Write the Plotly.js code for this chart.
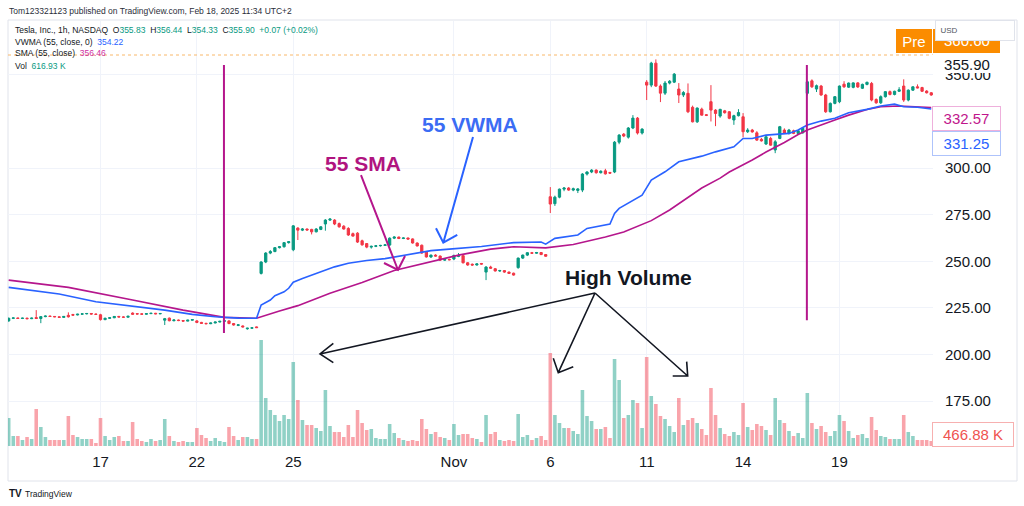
<!DOCTYPE html>
<html>
<head>
<meta charset="utf-8">
<script src="https://cdn.plot.ly/plotly-3.0.1.min.js"></script>
<style>
  html, body { margin: 0; padding: 0; background: #fff; }
  #chart { width: 1024px; height: 506px; }
</style>
</head>
<body>
<div id="chart"></div>
<script>
// TSLA 1h, regular hours, Oct 14 (10:30) .. Nov 21, one bar per hour
const opens = [
  218.0, 219.4, 219.6, 219.3, 219.5, 219.2,
  219.8, 219.3, 220.3, 220.6, 220.4, 220.2, 219.9,
  221.0, 221.4, 221.2, 221.6, 221.8, 222.0, 221.7,
  221.3, 218.7, 219.4, 219.7, 220.4, 220.1, 220.0,
  222.2, 221.9, 221.8, 221.6, 221.9, 222.1, 221.8,
  218.4, 219.5, 218.1, 218.5, 218.2, 217.9, 218.4,
  218.0, 217.2, 216.7, 216.5, 216.9, 217.4, 217.8,
  218.0, 216.6, 215.6, 215.3, 213.8, 214.1, 214.8,
  243.5, 249.6, 254.4, 255.2, 257.3, 257.8, 260.0,
  256.2, 267.8, 266.7, 267.3, 267.1, 265.8, 267.1,
  270.0, 272.1, 272.1, 270.2, 268.8, 267.6, 264.8,
  265.1, 261.0, 259.5, 257.6, 258.0, 258.3, 258.5,
  258.7, 262.4, 263.0, 262.2, 262.5, 262.0, 259.8,
  258.6, 254.9, 252.3, 253.3, 252.8, 250.6, 251.0,
  251.2, 252.6, 253.0, 249.2, 248.4, 248.0, 248.8,
  244.2, 246.9, 246.0, 244.8, 245.0, 244.2, 243.6,
  246.6, 251.7, 253.3, 254.6, 254.3, 254.7, 253.6,
  284.6, 280.9, 284.4, 288.7, 289.3, 288.2, 288.0,
  288.2, 296.8, 297.9, 298.9, 297.5, 298.5, 297.6,
  297.9, 313.9, 318.2, 316.6, 321.5, 326.8, 318.8,
  346.1, 344.5, 356.3, 344.0, 340.2, 345.6, 346.1,
  342.4, 339.2, 340.1, 332.6, 324.8, 331.6, 328.6,
  335.6, 331.1, 327.9, 330.7, 330.2, 325.8, 328.1,
  327.5, 319.5, 320.4, 318.9, 315.4, 312.9, 315.9,
  309.7, 315.9, 320.4, 318.6, 320.0, 318.6, 318.9,
  340.1, 346.8, 342.4, 344.0, 339.2, 330.2, 334.7,
  335.6, 345.0, 343.4, 343.3, 345.7, 342.8, 344.9,
  345.4, 336.8, 335.0, 338.3, 341.0, 339.5, 341.2,
  344.0, 336.5, 341.8, 343.6, 343.2, 341.3, 340.4
];
const highs = [
  219.8, 219.8, 219.8, 219.7, 219.7, 219.8,
  223.8, 220.6, 220.9, 220.8, 220.6, 220.4, 220.6,
  222.6, 221.8, 221.8, 222.0, 222.1, 222.2, 221.9,
  221.8, 219.8, 219.9, 220.6, 220.7, 220.4, 220.7,
  222.6, 222.2, 222.0, 222.0, 222.3, 222.3, 222.2,
  219.6, 219.8, 218.8, 218.7, 218.5, 218.6, 218.9,
  218.4, 217.5, 217.0, 217.0, 217.6, 218.0, 218.3,
  218.4, 216.9, 216.1, 215.6, 214.3, 214.5, 215.0,
  250.0, 254.9, 256.0, 257.6, 258.2, 260.3, 260.8,
  269.4, 268.3, 267.8, 267.6, 267.4, 267.8, 268.8,
  272.6, 273.2, 272.6, 270.8, 269.4, 268.3, 265.4,
  265.6, 261.6, 259.8, 258.4, 258.6, 258.8, 259.1,
  262.8, 263.4, 263.2, 262.8, 262.7, 262.3, 260.1,
  259.0, 255.4, 253.6, 253.8, 253.1, 251.4, 251.4,
  253.6, 254.4, 253.4, 249.6, 248.8, 248.9, 249.1,
  247.4, 247.6, 246.4, 245.4, 245.3, 244.5, 243.9,
  252.0, 253.6, 254.9, 255.0, 255.0, 254.9, 253.9,
  289.8, 285.2, 289.0, 289.8, 289.8, 289.5, 289.3,
  297.3, 298.3, 299.4, 299.3, 298.8, 299.6, 298.0,
  314.5, 318.2, 318.8, 322.0, 328.4, 327.4, 321.4,
  347.2, 357.0, 358.3, 344.9, 346.7, 347.2, 351.0,
  345.6, 341.3, 345.4, 333.5, 332.5, 332.4, 329.0,
  344.5, 331.6, 331.8, 331.2, 330.6, 328.6, 331.6,
  329.5, 321.4, 321.0, 319.8, 316.2, 317.0, 316.8,
  315.0, 322.6, 321.3, 321.0, 320.6, 320.4, 321.8,
  346.8, 347.6, 344.8, 344.6, 339.8, 335.2, 338.6,
  344.3, 346.6, 345.9, 346.0, 346.1, 345.3, 346.4,
  346.2, 337.4, 339.0, 341.3, 341.6, 341.5, 343.4,
  347.6, 342.2, 343.8, 344.9, 343.6, 341.8, 340.8
];
const lows = [
  217.6, 219.0, 219.1, 219.0, 218.9, 219.0,
  219.0, 216.8, 220.0, 220.1, 220.0, 219.7, 219.7,
  219.8, 221.0, 221.0, 221.3, 221.5, 221.4, 221.4,
  218.2, 218.4, 219.1, 219.5, 219.9, 219.8, 219.8,
  221.2, 221.5, 221.4, 221.4, 221.7, 221.6, 221.6,
  215.8, 217.8, 217.8, 217.9, 217.7, 217.8, 218.2,
  216.8, 216.4, 216.2, 216.3, 216.7, 217.2, 217.6,
  216.2, 215.5, 215.2, 214.5, 213.3, 213.7, 214.2,
  242.9, 249.0, 253.8, 254.9, 256.9, 257.3, 259.5,
  255.4, 261.4, 266.2, 266.5, 264.4, 265.5, 266.7,
  266.4, 271.6, 269.4, 268.0, 267.0, 263.6, 263.3,
  259.8, 258.4, 257.0, 256.8, 257.6, 257.9, 258.2,
  258.2, 261.9, 261.9, 261.9, 261.6, 259.5, 258.0,
  254.0, 252.0, 251.8, 252.5, 250.3, 250.2, 250.5,
  250.6, 252.2, 248.8, 247.6, 247.6, 247.7, 248.2,
  239.9, 246.0, 244.5, 244.3, 243.8, 243.2, 242.3,
  246.0, 251.2, 252.8, 254.0, 254.0, 253.3, 252.4,
  275.9, 279.7, 283.8, 287.6, 287.8, 287.6, 286.6,
  287.1, 296.0, 297.3, 297.0, 297.1, 296.5, 296.9,
  297.3, 312.8, 316.6, 315.8, 320.9, 318.0, 318.0,
  336.5, 343.4, 343.5, 335.4, 339.2, 344.9, 345.6,
  334.9, 338.1, 329.5, 324.5, 324.2, 328.2, 327.9,
  325.0, 322.5, 327.0, 329.2, 326.2, 323.2, 327.7,
  316.5, 318.8, 319.0, 314.6, 314.2, 312.4, 312.0,
  308.0, 315.5, 318.4, 318.0, 318.2, 318.2, 318.5,
  339.0, 343.0, 340.8, 338.8, 329.6, 329.8, 334.2,
  334.8, 343.0, 343.0, 342.8, 343.0, 342.4, 344.4,
  335.8, 334.5, 334.4, 337.8, 339.0, 339.0, 340.8,
  335.5, 335.8, 341.4, 342.8, 340.8, 340.0, 338.8
];
const closes = [
  219.4, 219.6, 219.3, 219.5, 219.2, 219.5,
  219.3, 220.3, 220.6, 220.4, 220.2, 219.9, 220.4,
  220.2, 221.1, 221.6, 221.8, 222.0, 221.7, 221.5,
  218.7, 219.4, 219.7, 220.4, 220.1, 220.0, 220.5,
  221.6, 221.7, 221.6, 221.9, 222.1, 221.8, 222.0,
  219.2, 218.1, 218.5, 218.2, 217.9, 218.4, 218.7,
  217.2, 216.7, 216.5, 216.9, 217.4, 217.8, 218.1,
  216.6, 215.8, 215.9, 214.8, 214.1, 214.3, 214.4,
  249.6, 254.4, 255.2, 257.3, 257.8, 260.0, 260.5,
  269.0, 266.7, 267.3, 266.8, 265.8, 267.3, 268.5,
  272.1, 272.6, 270.0, 268.5, 267.3, 264.1, 263.5,
  260.3, 258.8, 257.6, 258.0, 258.3, 258.5, 258.8,
  262.4, 263.0, 262.2, 262.5, 261.9, 259.8, 258.2,
  254.4, 252.3, 253.3, 252.8, 250.6, 251.0, 250.8,
  253.1, 253.0, 249.2, 248.0, 248.0, 248.6, 248.5,
  246.9, 246.3, 244.8, 245.0, 244.2, 243.5, 242.6,
  251.7, 253.3, 254.6, 254.3, 254.7, 253.6, 252.7,
  280.7, 284.4, 288.7, 289.3, 288.2, 288.9, 288.8,
  296.8, 297.9, 298.9, 297.5, 298.3, 296.9, 297.3,
  313.9, 317.7, 317.2, 321.5, 326.8, 318.8, 320.9,
  344.5, 356.3, 344.0, 340.2, 345.6, 346.6, 350.4,
  339.2, 340.5, 330.2, 324.8, 332.2, 328.4, 328.3,
  331.1, 329.3, 331.5, 329.7, 326.7, 328.1, 329.8,
  319.5, 320.4, 319.4, 315.0, 314.6, 316.8, 312.3,
  314.1, 322.2, 318.6, 320.4, 318.6, 320.0, 321.3,
  346.3, 343.6, 344.2, 339.2, 330.2, 334.7, 338.3,
  344.0, 343.6, 345.6, 345.7, 343.5, 344.9, 346.0,
  336.5, 335.0, 338.3, 341.0, 339.5, 341.2, 342.0,
  336.5, 341.8, 343.6, 343.0, 341.2, 340.4, 339.2
];
// volume, millions
const volumes = [
  2.8, 1.0, 1.0, 0.6, 0.9, 0.7,
  3.7, 1.9, 0.9, 0.6, 0.6, 0.6, 0.6,
  3.0, 1.1, 0.9, 0.7, 0.7, 0.7, 0.3,
  2.8, 1.0, 0.6, 0.9, 1.0, 0.5, 0.5,
  2.4, 0.7, 0.5, 0.4, 0.7, 0.5, 0.6,
  2.7, 1.0, 0.5, 0.4, 0.5, 0.4, 0.4,
  1.8, 1.1, 0.8, 0.5, 0.8, 0.5, 0.4,
  1.9, 1.0, 0.6, 0.9, 0.9, 0.7, 0.7,
  10.6, 4.8, 3.6, 3.1, 2.5, 3.1, 2.7,
  8.4, 4.6, 2.6, 2.1, 2.1, 1.8, 1.5,
  5.6, 2.0, 1.4, 1.4, 0.9, 2.1, 0.9,
  3.6, 2.3, 1.6, 1.7, 0.8, 0.7, 0.7,
  2.2, 1.3, 0.8, 0.6, 0.5, 0.6, 0.5,
  2.7, 1.7, 1.2, 1.4, 0.9, 0.8, 0.6,
  2.2, 1.1, 1.2, 1.2, 0.8, 0.7, 0.4,
  3.1, 1.2, 1.4, 0.6, 0.5, 0.6, 0.5,
  3.2, 0.9, 1.1, 0.6, 0.8, 1.0, 0.6,
  9.3, 3.1, 2.3, 1.8, 1.8, 1.5, 1.2,
  5.6, 3.0, 2.5, 1.7, 1.7, 1.9, 0.8,
  8.7, 6.6, 2.8, 3.1, 4.6, 4.3, 1.8,
  8.9, 5.0, 4.2, 3.0, 2.7, 2.0, 1.4,
  4.8, 2.1, 2.6, 2.8, 2.3, 1.7, 1.1,
  5.8, 3.1, 1.8, 1.2, 1.0, 1.4, 1.1,
  4.3, 1.9, 1.6, 2.2, 2.0, 1.6, 1.1,
  4.8, 2.6, 2.3, 1.5, 1.0, 1.3, 0.8,
  5.3, 2.3, 1.7, 2.0, 1.4, 1.0, 1.5,
  3.1, 2.5, 1.5, 0.8, 1.1, 1.2, 0.8,
  2.9, 1.6, 1.0, 0.9, 0.7, 0.7, 0.7,
  3.1, 1.4, 1.0, 0.6, 0.6, 0.6, 0.5
];

// 55 VWMA and 55 SMA, read at bar positions
const vwmaBars = [0,5,11,19,27,34,40,45,50,54,55,57,58,60,61,62,64,68,71,74,78,82,85,89,92,96,100,103,110,116,117,119,124,126,131,132,133,138,140,143,146,151,154,158,160,162,165,170,172,174,177,180,183,187,190,193,195,198,201];
const vwmaValues = [236.0,234.5,232.4,228.3,226.0,223.8,221.5,220.2,219.5,219.4,226.5,229.2,231.5,233.6,235.5,238.8,240.8,244.2,247.0,248.9,250.4,251.4,252.8,254.7,255.7,256.5,257.3,257.9,260.0,260.3,259.2,262.3,264.1,267.6,270.0,275.7,278.4,285.5,293.6,298.0,303.4,306.4,308.7,311.4,315.9,315.9,317.7,318.6,320.4,323.1,325.2,326.7,329.7,331.5,333.3,334.3,332.9,332.6,331.7];
const smaBars = [0,13,27,38,47,54,59,63,70,77,84,91,98,105,110,117,123,130,134,140,144,151,155,157,162,165,169,172,174,180,183,187,190,194,198,201];
const smaValues = [239.9,236.0,229.2,223.8,219.9,219.4,223.3,226.2,232.9,238.6,245.0,249.3,253.3,256.5,257.8,257.2,259.0,263.0,265.7,271.8,277.5,289.3,294.6,297.9,304.3,308.6,313.7,318.0,320.4,325.8,328.4,331.4,332.9,333.3,332.9,332.5];

const dayTickBars = [20, 41, 62, 97, 118, 139, 160, 181];
const dayTickLabels = ['17', '22', '25', 'Nov', '6', '11', '14', '19'];
// 325 and 375 sit under the price boxes, so only the visible ones are listed
const priceTicks = [175, 200, 225, 250, 275, 300, 350];

const UP = '#089981', DOWN = '#f23645';
const BLUE = '#2962ff', MAGENTA = '#b5168c';
const FONT = 'Liberation Sans, Arial, sans-serif';

const barIdx = opens.map((_, i) => i);
const volColors = opens.map((o, i) => closes[i] >= o ? 'rgba(8,153,129,0.45)' : 'rgba(242,54,69,0.45)');

// pixel -> paper helpers for the drawn notes
const L = 8, R = 933, T = 21, B = 446;
const px = x => (x - L) / (R - L);
const py = y => (B - y) / (B - T);
const path = pts => pts.map((p, k) => (k ? 'L' : 'M') + px(p[0]).toFixed(4) + ',' + py(p[1]).toFixed(4)).join(' ');

const traces = [
  {
    type: 'bar', x: barIdx, y: volumes, yaxis: 'y2',
    marker: { color: volColors, line: { width: 0 } }, hoverinfo: 'skip'
  },
  {
    type: 'candlestick', x: barIdx, open: opens, high: highs, low: lows, close: closes,
    whiskerwidth: 0,
    increasing: { line: { color: UP, width: 1 }, fillcolor: UP },
    decreasing: { line: { color: DOWN, width: 1 }, fillcolor: DOWN },
    hoverinfo: 'skip'
  },
  {
    type: 'scatter', mode: 'lines', x: smaBars, y: smaValues,
    line: { color: MAGENTA, width: 1.6 }, hoverinfo: 'skip'
  },
  {
    type: 'scatter', mode: 'lines', x: vwmaBars, y: vwmaValues,
    line: { color: BLUE, width: 1.6 }, hoverinfo: 'skip'
  }
];

function note(x, y, text, opt) {
  return Object.assign({
    xref: 'paper', yref: 'paper', x: px(x), y: py(y), text: text,
    showarrow: false, xanchor: 'left', yanchor: 'middle',
    font: { family: FONT, size: 8.5, color: '#131722' }
  }, opt || {});
}
function priceBox(x, y, w, h, text, color, border, bg) {
  return note(x, y, text, {
    xanchor: 'center', width: w, height: h, bgcolor: bg || '#ffffff',
    bordercolor: border || 'rgba(0,0,0,0)', borderwidth: border ? 1 : 0, borderpad: 0,
    font: { family: FONT, size: 15, color: color }
  });
}

const g = s => '<span style="color:' + UP + '">' + s + '</span>';
const annotations = [
  note(7, 11, 'Tom123321123 published on TradingView.com, Feb 18, 2025 11:34 UTC+2', { font: { family: FONT, size: 8.5, color: '#2a2e39' } }),
  note(13, 30.5, 'Tesla, Inc., 1h, NASDAQ&nbsp; O' + g('355.83') + '&nbsp; H' + g('356.44') + '&nbsp; L' + g('354.33') + '&nbsp; C' + g('355.90') + '&nbsp; ' + g('+0.07 (+0.02%)')),
  note(13, 42, 'VWMA (55, close, 0)&nbsp; <span style="color:' + BLUE + '">354.22</span>'),
  note(13, 53.5, 'SMA (55, close)&nbsp; <span style="color:#d0309f">356.46</span>'),
  note(13, 65.5, 'Vol&nbsp; ' + g('616.93 K')),

  note(470, 124.5, '<b>55 VWMA</b>', { xanchor: 'center', font: { family: FONT, size: 21, color: '#3b6cf4' } }),
  note(362.5, 163, '<b>55 SMA</b>', { xanchor: 'center', font: { family: FONT, size: 21, color: '#b0147f' } }),
  note(628, 277, '<b>High Volume</b>', { xanchor: 'center', font: { family: FONT, size: 21, color: '#131722' } }),

  priceBox(914, 41, 36, 24, 'Pre', '#ffffff', null, '#fb8c00'),
  note(966.5, 40.5, '360.60', { xanchor: 'center', font: { family: FONT, size: 15, color: '#ffffff' } }),
  priceBox(966.5, 64.5, 70, 18, '355.90', '#131722', null, '#ffffff'),
  priceBox(966.5, 118.5, 67, 23, '332.57', '#c0168c', '#eeb0dc'),
  priceBox(966.5, 143, 67, 23, '331.25', BLUE, '#aec3fb'),
  priceBox(973, 434.5, 80, 23, '466.88 K', '#ef5350', '#f7b0b0'),

  note(7, 493.5, '<b>TV</b>', { font: { family: FONT, size: 10, color: '#131722' } }),
  note(23, 493.5, 'TradingView', { font: { family: FONT, size: 8.5, color: '#131722' } }),

  // currency box sits over the pre-market price box
  note(935, 30.5, '&nbsp;&nbsp;USD', { xanchor: 'left', width: 78, height: 19, align: 'left', bgcolor: '#ffffff', bordercolor: '#e0e3eb', borderwidth: 1, borderpad: 0, font: { family: FONT, size: 8, color: '#50535e' } })
];

const shapes = [
  // chart frame
  { type: 'rect', xref: 'paper', yref: 'paper', x0: px(8), x1: px(1017), y0: py(481), y1: py(20), line: { color: '#e0e3eb', width: 1 }, layer: 'below' },
  // pre-market price box and line
  { type: 'rect', xref: 'paper', yref: 'paper', x0: px(933), x1: px(1000), y0: py(53), y1: py(29), fillcolor: '#fb8c00', line: { width: 0 } },
  { type: 'line', xref: 'paper', yref: 'paper', x0: 0, x1: 1, y0: py(55), y1: py(55), line: { color: '#f9b86a', width: 1, dash: 'dot' } },
  // vertical markers
  { type: 'line', xref: 'x', yref: 'y', x0: 46.9, x1: 46.9, y0: 211.5, y1: 355.3, line: { color: MAGENTA, width: 2 } },
  { type: 'line', xref: 'x', yref: 'y', x0: 173.9, x1: 173.9, y0: 218.4, y1: 355.3, line: { color: MAGENTA, width: 2 } },
  // hand-drawn arrows
  { type: 'path', xref: 'paper', yref: 'paper', path: path([[361, 175], [398, 270]]) + ' ' + path([[384, 263], [398, 270], [405, 256]]), line: { color: MAGENTA, width: 2 } },
  { type: 'path', xref: 'paper', yref: 'paper', path: path([[473, 137], [443.3, 242.7]]) + ' ' + path([[436, 228.3], [443.3, 242.7], [457.3, 235]]), line: { color: BLUE, width: 2 } },
  { type: 'path', xref: 'paper', yref: 'paper', line: { color: '#131722', width: 1.6 },
    path: [path([[595, 293], [320, 354]]), path([[333.3, 343.3], [320, 354], [333.3, 362.7]]),
           path([[595, 293], [558.3, 372.7]]), path([[553.3, 358.3], [558.3, 372.7], [573.3, 366.7]]),
           path([[595, 293], [687.7, 376]]), path([[686.7, 361.7], [687.7, 376], [672.7, 376]])].join(' ') }
];

const layout = {
  width: 1024, height: 506,
  margin: { l: L, r: 1024 - R, t: T, b: 506 - B },
  paper_bgcolor: '#ffffff', plot_bgcolor: '#ffffff',
  showlegend: false, bargap: 0.22, hovermode: false,
  xaxis: {
    range: [-0.15, 201.38], tickvals: dayTickBars, ticktext: dayTickLabels,
    showgrid: true, gridcolor: '#f0f3fa', zeroline: false, showline: false,
    ticks: 'outside', ticklen: 2, tickcolor: 'rgba(0,0,0,0)',
    tickfont: { family: FONT, size: 15, color: '#131722' },
    rangeslider: { visible: false }, fixedrange: true
  },
  yaxis: {
    side: 'right', range: [150.9, 378.9], tickvals: priceTicks,
    ticktext: priceTicks.map(v => v.toFixed(2)),
    showgrid: true, gridcolor: '#f0f3fa', zeroline: false, showline: false,
    ticks: 'outside', ticklen: 8, tickcolor: 'rgba(0,0,0,0)',
    tickfont: { family: FONT, size: 15, color: '#131722' }, fixedrange: true
  },
  yaxis2: { overlaying: 'y', range: [0, 42.5], visible: false, fixedrange: true },
  shapes: shapes,
  annotations: annotations
};

Plotly.newPlot('chart', traces, layout, { displayModeBar: false, staticPlot: true });
</script>
</body>
</html>
